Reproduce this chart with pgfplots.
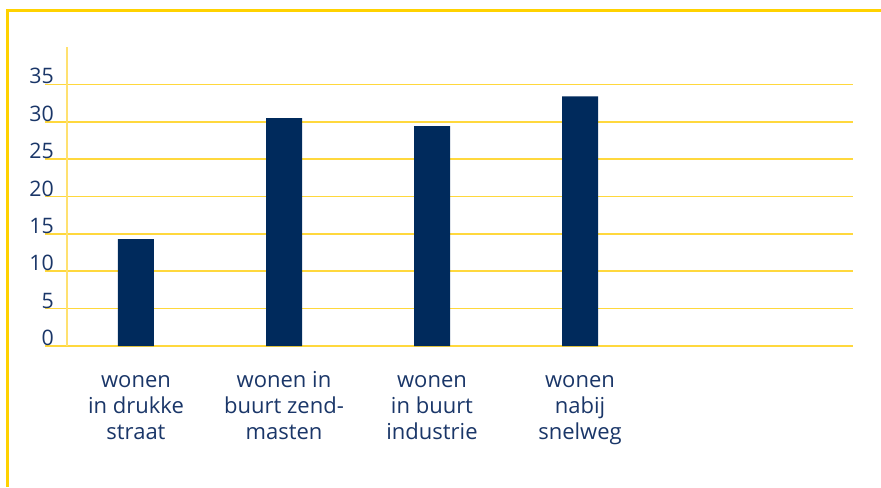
\documentclass[border=0pt]{standalone}
\usepackage{pgfplots}
\pgfplotsset{compat=1.18}
\usepackage{fontspec}
\setmainfont{Open Sans}
\definecolor{barcol}{HTML}{002A5C}
\definecolor{txtcol}{HTML}{1A3668}
\definecolor{framecol}{HTML}{FFD200}
\definecolor{gridcol}{HTML}{FFD83D}
\definecolor{axcol}{HTML}{FFE170}
\begin{document}
\begin{tikzpicture}[x=0.75pt,y=0.75pt]
\useasboundingbox (-67,-141) rectangle (814,346);
\begin{axis}[
  at={(0,0)}, anchor=south west,
  scale only axis,
  width=589.5pt, height=224.25pt,
  xmin=-0.4662, xmax=4.8446,
  ymin=0, ymax=40,
  axis x line*=bottom, axis y line*=left,
  x axis line style={draw=none},
  y axis line style={-, draw=axcol, line width=1pt},
  ytick={0,5,...,35},
  ymajorgrids,
  grid style={draw=gridcol, line width=1.2pt},
  ytick style={draw=gridcol, line width=1.2pt},
  tick align=outside,
  major tick length=16.5pt,
  xtick={0,1,2,3},
  xtick style={draw=none},
  xticklabels={{\strut wonen\\in drukke\\straat},{\strut wonen in\\buurt zend-\\masten},{\strut wonen\\in buurt\\industrie},{\strut wonen\\nabij\\snelweg}},
  xticklabel style={align=center, font=\fontsize{16.5}{19.5}\selectfont, text=txtcol, inner sep=0pt, anchor=north, yshift=-0.6pt},
  yticklabel style={font=\fontsize{16}{19}\selectfont, text=txtcol, inner sep=0pt, anchor=south east, xshift=6.75pt, yshift=0pt},
  /pgf/number format/assume math mode=true,
  clip=false,
]
\addplot[ybar, bar width=27pt, fill=barcol, draw=none] coordinates {(0,14.3) (1,30.5) (2,29.4) (3,33.4)};
\end{axis}
\draw[framecol, line width=2.25pt] (-59.5,-141) -- (-59.5,335.5) -- (814,335.5);
\end{tikzpicture}
\end{document}
